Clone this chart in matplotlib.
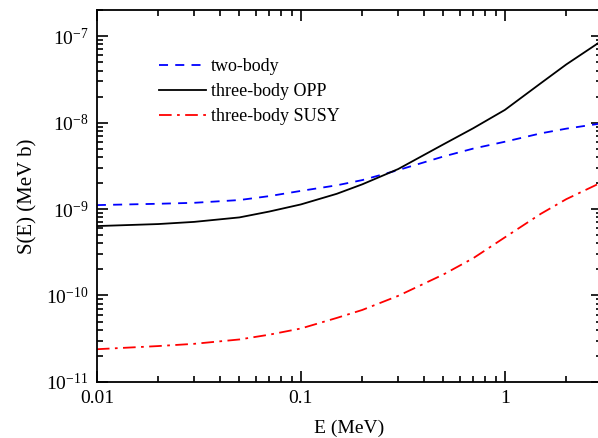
import matplotlib
matplotlib.use("Agg")
import matplotlib.pyplot as plt
import numpy as np
from matplotlib.ticker import LogLocator, LogFormatterMathtext, NullFormatter, FixedLocator, FixedFormatter

plt.rcParams['font.family'] = ['Liberation Serif', 'DejaVu Serif']
plt.rcParams['mathtext.fontset'] = 'custom'
plt.rcParams['mathtext.rm'] = 'Liberation Serif'
plt.rcParams['mathtext.it'] = 'Liberation Serif:italic'

E = [0.01, 0.02, 0.03, 0.05, 0.07, 0.1, 0.15, 0.2, 0.3, 0.5, 0.7, 1.0, 1.5, 2.0, 3.0]
two_body = [1.11e-9, 1.15e-9, 1.18e-9, 1.27e-9, 1.41e-9, 1.62e-9, 1.88e-9, 2.16e-9,
            2.82e-9, 4.05e-9, 5.0e-9, 6.0e-9, 7.5e-9, 8.5e-9, 9.8e-9]
three_opp = [6.35e-10, 6.7e-10, 7.1e-10, 8.0e-10, 9.35e-10, 1.13e-9, 1.5e-9, 1.93e-9,
             2.9e-9, 5.6e-9, 8.6e-9, 1.4e-8, 2.85e-8, 4.7e-8, 8.9e-8]
three_susy = [2.39e-11, 2.6e-11, 2.76e-11, 3.1e-11, 3.52e-11, 4.15e-11, 5.5e-11, 6.8e-11,
              9.9e-11, 1.75e-10, 2.7e-10, 4.7e-10, 8.8e-10, 1.3e-9, 2.05e-9]

x_major = [0.01, 0.1, 1]
x_major_labels = ['0.01', '0.1', '1']
y_major = [1e-11, 1e-10, 1e-9, 1e-8, 1e-7]

fig = plt.figure(figsize=(5.98, 4.38), dpi=100)
ax = fig.add_axes([0.162, 0.128, 0.845, 0.849])

ax.plot(E, two_body, color='blue', linestyle=(0, (5, 4)), lw=1.3, label='two-body')
ax.plot(E, three_opp, color='black', linestyle='-', lw=1.3, label='three-body OPP')
ax.plot(E, three_susy, color='red', linestyle=(0, (7, 3, 1.5, 3)), lw=1.3, label='three-body SUSY')

ax.set_xscale('log')
ax.set_yscale('log')
ax.set_xlim(0.01, 3.0)
ax.set_ylim(1e-11, 2e-7)

x_minor = [m * d for d in (0.01, 0.1, 1) for m in range(2, 10) if m * d <= 3.0]
y_minor = [m * d for d in y_major for m in range(2, 10) if m * d <= 2e-7]

ax.xaxis.set_major_locator(FixedLocator(x_major))
ax.xaxis.set_major_formatter(FixedFormatter(x_major_labels))
ax.xaxis.set_minor_locator(FixedLocator(x_minor))
ax.xaxis.set_minor_formatter(NullFormatter())
ax.yaxis.set_major_locator(FixedLocator(y_major))
ax.yaxis.set_major_formatter(LogFormatterMathtext())
ax.yaxis.set_minor_locator(FixedLocator(y_minor))
ax.yaxis.set_minor_formatter(NullFormatter())

ax.tick_params(which='both', direction='in', top=True, right=True, labelsize=14, width=1.2)
ax.tick_params(which='major', length=8, pad=6)
ax.tick_params(which='minor', length=4.5)
for s in ax.spines.values():
    s.set_linewidth(1.3)

ax.set_xlabel('E (MeV)', fontsize=14, labelpad=9)
ax.set_ylabel('S(E) (MeV b)', fontsize=15, labelpad=6)

leg = ax.legend(loc='upper left', bbox_to_anchor=(0.09, 0.915), frameon=False, fontsize=13,
                handlelength=2.6, handletextpad=0.3, labelspacing=0.45)

fig.savefig('out.png', dpi=100)
